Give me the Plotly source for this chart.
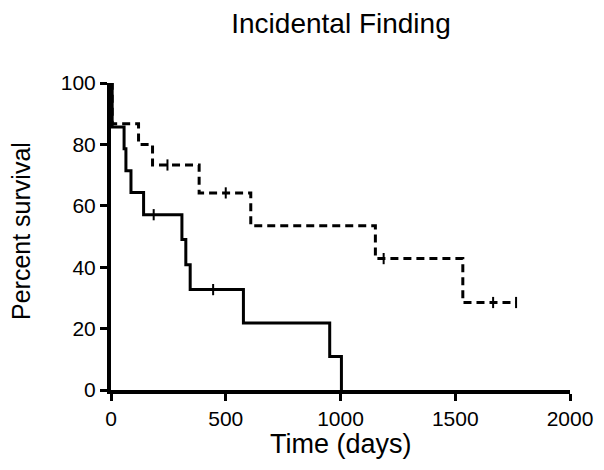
import plotly.graph_objects as go

# Kaplan-Meier steps
solid_days = [0, 5, 57, 65, 87, 142, 309, 326, 345, 577, 953, 1004]
solid_surv = [100, 85.7, 78.6, 71.4, 64.3, 57.1, 49.0, 40.8, 32.7, 21.8, 10.9, 0]
solid_cens_days = [186, 445]
solid_cens_surv = [57.1, 32.7]

dash_days = [0, 5, 120, 181, 384, 609, 1152, 1533, 1765]
dash_surv = [100, 86.7, 80.0, 73.3, 64.2, 53.5, 42.8, 28.5, 28.5]
dash_cens_days = [246, 500, 1188, 1665, 1765]
dash_cens_surv = [73.3, 64.2, 42.8, 28.5, 28.5]

x_ticks = [0, 500, 1000, 1500, 2000]
y_ticks = [0, 20, 40, 60, 80, 100]

fig = go.Figure()

fig.add_trace(go.Scatter(x=dash_days, y=dash_surv, mode="lines", line_shape="hv",
                         line=dict(color="black", width=3, dash="8px,5px"),
                         cliponaxis=False, showlegend=False))
fig.add_trace(go.Scatter(x=dash_cens_days, y=dash_cens_surv, mode="markers",
                         marker=dict(symbol="line-ns", size=8, line=dict(color="black", width=2)),
                         cliponaxis=False, showlegend=False))
fig.add_trace(go.Scatter(x=solid_days, y=solid_surv, mode="lines", line_shape="hv",
                         line=dict(color="black", width=3),
                         cliponaxis=False, showlegend=False))
fig.add_trace(go.Scatter(x=solid_cens_days, y=solid_cens_surv, mode="markers",
                         marker=dict(symbol="line-ns", size=8, line=dict(color="black", width=2)),
                         cliponaxis=False, showlegend=False))

# page body adds an 8px offset, so the margins below are shifted to compensate
fig.update_layout(
    width=604, height=470,
    margin=dict(l=103, r=42, t=75, b=88),
    plot_bgcolor="white", paper_bgcolor="white",
    font=dict(family="Liberation Sans, Arial, sans-serif", color="black"),
    title=dict(text="Incidental Finding", x=333 / 604, xanchor="center",
               y=1 - 15 / 470, yanchor="middle",
               font=dict(size=28, color="black")),
    annotations=[
        dict(text="Time (days)", xref="paper", yref="paper", x=0.502, y=-(444 - 390) / 307,
             xanchor="center", yanchor="middle", showarrow=False, font=dict(size=27)),
        dict(text="Percent survival", xref="paper", yref="paper", x=-(111 - 21) / 459,
             y=(390 - 231) / 307, textangle=-90, xanchor="center", yanchor="middle",
             showarrow=False, font=dict(size=25)),
    ],
)
fig.update_xaxes(range=[0, 2000], tickvals=x_ticks, showgrid=False, zeroline=False,
                 showline=True, linecolor="black", linewidth=4, automargin=False,
                 ticks="outside", ticklen=7, tickwidth=3, tickcolor="black",
                 tickfont=dict(size=21))
fig.update_yaxes(range=[0, 100], tickvals=y_ticks, showgrid=False, zeroline=False,
                 showline=True, linecolor="black", linewidth=4, automargin=False,
                 ticks="outside", ticklen=7, tickwidth=3, tickcolor="black",
                 tickfont=dict(size=21))

fig.write_html("out.html")
